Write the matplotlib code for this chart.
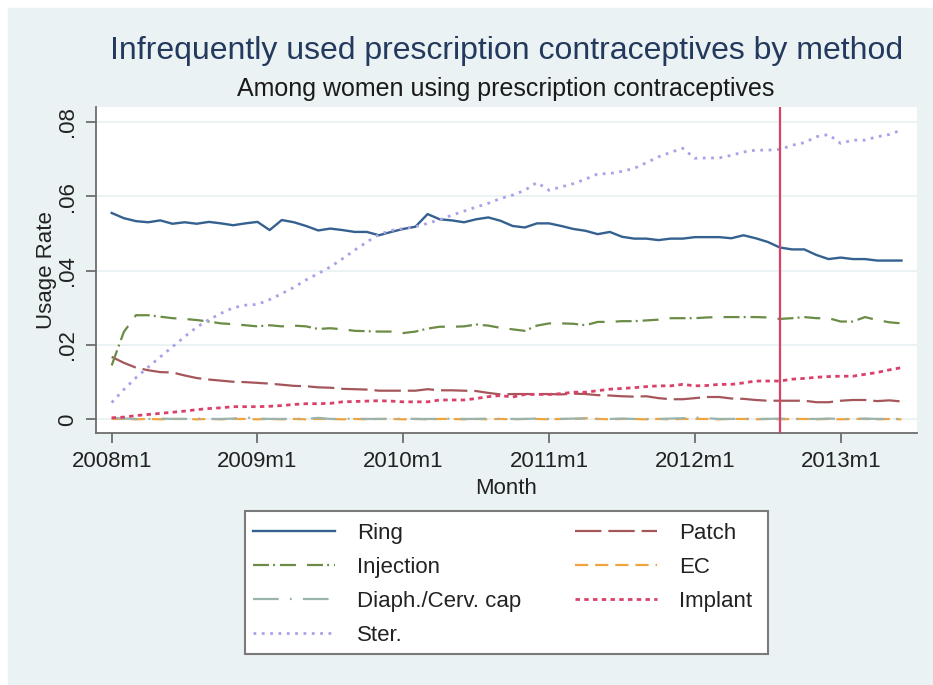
import numpy as np
import pandas as pd
import matplotlib
matplotlib.use("Agg")
import matplotlib.pyplot as plt
from matplotlib.patches import Rectangle

# monthly series, 2008m1 .. 2013m6
months = pd.period_range("2008-01", periods=66, freq="M")
ref_month = "2012m8"

ring = [0.0555, 0.0541, 0.0533, 0.0530, 0.0535, 0.0526, 0.0530, 0.0526, 0.0531, 0.0527,
        0.0522, 0.0527, 0.0531, 0.0509, 0.0536, 0.0530, 0.0520, 0.0508, 0.0513, 0.0509,
        0.0504, 0.0504, 0.0495, 0.0504, 0.0512, 0.0518, 0.0552, 0.0538, 0.0535, 0.0530,
        0.0538, 0.0543, 0.0534, 0.0520, 0.0516, 0.0527, 0.0527, 0.0520, 0.0512, 0.0507,
        0.0498, 0.0504, 0.0491, 0.0486, 0.0486, 0.0482, 0.0486, 0.0486, 0.0490, 0.0490,
        0.0490, 0.0487, 0.0495, 0.0487, 0.0477, 0.0462, 0.0457, 0.0457, 0.0442, 0.0431,
        0.0435, 0.0431, 0.0431, 0.0427, 0.0427, 0.0427]
patch = [0.0168, 0.0152, 0.0139, 0.0132, 0.0127, 0.0126, 0.0118, 0.0111, 0.0107, 0.0104,
         0.0101, 0.0100, 0.0098, 0.0096, 0.0093, 0.0090, 0.0089, 0.0086, 0.0085, 0.0082,
         0.0081, 0.0080, 0.0077, 0.0077, 0.0077, 0.0077, 0.0081, 0.0078, 0.0078, 0.0077,
         0.0076, 0.0071, 0.0067, 0.0068, 0.0068, 0.0068, 0.0068, 0.0067, 0.0069, 0.0068,
         0.0065, 0.0064, 0.0062, 0.0061, 0.0062, 0.0057, 0.0054, 0.0054, 0.0057, 0.0060,
         0.0060, 0.0056, 0.0055, 0.0052, 0.0050, 0.0050, 0.0050, 0.0050, 0.0046, 0.0046,
         0.0050, 0.0052, 0.0052, 0.0049, 0.0051, 0.0048]
injection = [0.0145, 0.0235, 0.0280, 0.0280, 0.0276, 0.0272, 0.0270, 0.0267, 0.0263, 0.0258,
             0.0256, 0.0253, 0.0250, 0.0253, 0.0250, 0.0252, 0.0250, 0.0243, 0.0245, 0.0242,
             0.0238, 0.0237, 0.0236, 0.0236, 0.0232, 0.0236, 0.0244, 0.0249, 0.0249, 0.0250,
             0.0255, 0.0252, 0.0246, 0.0242, 0.0238, 0.0252, 0.0258, 0.0258, 0.0257, 0.0253,
             0.0262, 0.0262, 0.0264, 0.0264, 0.0266, 0.0268, 0.0272, 0.0272, 0.0272, 0.0274,
             0.0275, 0.0275, 0.0275, 0.0275, 0.0274, 0.0270, 0.0272, 0.0275, 0.0272, 0.0272,
             0.0263, 0.0263, 0.0275, 0.0267, 0.0261, 0.0258]
ec = [0.0001, 0.0001, 0.0000, 0.0001, 0.0000, 0.0001, 0.0001, 0.0000, 0.0001, 0.0000,
      0.0001, 0.0001, 0.0000, 0.0001, 0.0000, 0.0001, 0.0000, 0.0001, 0.0001, 0.0000,
      0.0001, 0.0000, 0.0001, 0.0001, 0.0000, 0.0001, 0.0000, 0.0001, 0.0001, 0.0000,
      0.0001, 0.0000, 0.0001, 0.0000, 0.0001, 0.0001, 0.0000, 0.0001, 0.0001, 0.0003,
      0.0001, 0.0000, 0.0001, 0.0001, 0.0000, 0.0001, 0.0000, 0.0001, 0.0001, 0.0001,
      0.0000, 0.0001, 0.0001, 0.0000, 0.0001, 0.0000, 0.0001, 0.0001, 0.0000, 0.0001,
      0.0000, 0.0001, 0.0001, 0.0000, 0.0001, 0.0000]
diaph = [0.0004, 0.0002, 0.0001, 0.0001, 0.0002, 0.0001, 0.0001, 0.0002, 0.0001, 0.0001,
         0.0002, 0.0005, 0.0002, 0.0001, 0.0001, 0.0002, 0.0001, 0.0004, 0.0001, 0.0001,
         0.0002, 0.0001, 0.0001, 0.0001, 0.0002, 0.0001, 0.0001, 0.0001, 0.0002, 0.0001,
         0.0001, 0.0002, 0.0001, 0.0001, 0.0001, 0.0002, 0.0001, 0.0001, 0.0002, 0.0002,
         0.0001, 0.0001, 0.0002, 0.0001, 0.0001, 0.0001, 0.0002, 0.0003, 0.0005, 0.0003,
         0.0001, 0.0001, 0.0002, 0.0001, 0.0001, 0.0002, 0.0001, 0.0001, 0.0001, 0.0002,
         0.0001, 0.0001, 0.0002, 0.0001, 0.0001, 0.0001]
implant = [0.0004, 0.0006, 0.0010, 0.0013, 0.0016, 0.0019, 0.0022, 0.0026, 0.0029, 0.0031,
           0.0034, 0.0034, 0.0034, 0.0035, 0.0037, 0.0040, 0.0042, 0.0042, 0.0043, 0.0047,
           0.0048, 0.0049, 0.0050, 0.0049, 0.0047, 0.0047, 0.0047, 0.0052, 0.0052, 0.0052,
           0.0056, 0.0061, 0.0064, 0.0060, 0.0067, 0.0067, 0.0067, 0.0069, 0.0073, 0.0073,
           0.0077, 0.0081, 0.0083, 0.0085, 0.0088, 0.0090, 0.0090, 0.0094, 0.0090, 0.0091,
           0.0094, 0.0094, 0.0098, 0.0103, 0.0103, 0.0103, 0.0108, 0.0110, 0.0113, 0.0115,
           0.0116, 0.0116, 0.0121, 0.0126, 0.0133, 0.0139]
ster = [0.0045, 0.0080, 0.0112, 0.0140, 0.0168, 0.0195, 0.0222, 0.0248, 0.0268, 0.0285,
        0.0300, 0.0307, 0.0309, 0.0322, 0.0338, 0.0355, 0.0375, 0.0392, 0.0410, 0.0432,
        0.0455, 0.0477, 0.0497, 0.0508, 0.0513, 0.0518, 0.0527, 0.0537, 0.0549, 0.0560,
        0.0571, 0.0581, 0.0594, 0.0603, 0.0616, 0.0637, 0.0616, 0.0625, 0.0634, 0.0646,
        0.0660, 0.0661, 0.0667, 0.0675, 0.0690, 0.0706, 0.0718, 0.0729, 0.0702, 0.0703,
        0.0703, 0.0710, 0.0719, 0.0724, 0.0724, 0.0726, 0.0737, 0.0744, 0.0760, 0.0766,
        0.0742, 0.0751, 0.0751, 0.0760, 0.0766, 0.0778]

y_ticks = [0, 0.02, 0.04, 0.06, 0.08]
y_ticklabels = ["0", ".02", ".04", ".06", ".08"]

plt.rcParams["font.family"] = ["Liberation Sans", "DejaVu Sans"]
plt.rcParams["lines.scale_dashes"] = False

W, H = 933, 685
fig = plt.figure(figsize=(W / 100, H / 100), dpi=100, facecolor="white")
bg = "#eaf2f3"
fig.patches.append(Rectangle((8 / W, 0), (W - 8) / W, (H - 8) / H,
                             transform=fig.transFigure, color=bg, zorder=-10))

def px_box(x0, y0, x1, y1):
  return [x0 / W, 1 - y1 / H, (x1 - x0) / W, (y1 - y0) / H]

ax = fig.add_axes(px_box(96, 107, 917, 433))
ax.set_facecolor("white")

x = np.arange(len(months))
labels = [f"{p.year}m{p.month}" for p in months]

series = [
  ("Ring", ring, "#34618f", "-", 1.7),
  ("Patch", patch, "#a5565b", (0, (19, 5)), 1.6),
  ("Injection", injection, "#6a8c45", (0, (11.5, 3, 1.4, 3.5, 11.5, 8)), 1.6),
  ("EC", ec, "#f0a440", (0, (9.5, 5)), 1.6),
  ("Diaph./Cerv. cap", diaph, "#9ab4ad", (0, (18.5, 8, 1.4, 8)), 1.6),
  ("Implant", implant, "#d9406a", (0, (3.2, 3.1)), 2.0),
  ("Ster.", ster, "#a9a2e6", (0, (2, 4)), 2.0),
]
handles = {}
for name, vals, col, ls, lw in series:
  h, = ax.plot(x, vals, color=col, linestyle=ls, lw=lw, label=name)
  handles[name] = h

ax.axvline(labels.index(ref_month), color="#d64465", lw=1.6, zorder=5)

ax.set_xlim(-1.29, 66.28)
ax.set_ylim(-0.00368, 0.0840)
jan = [i for i, p in enumerate(months) if p.month == 1]
ax.set_xticks(jan)
ax.set_xticklabels([labels[i] for i in jan], fontsize=16)
ax.set_yticks(y_ticks)
ax.set_yticklabels(y_ticklabels, fontsize=16, rotation=90, va="center")
ax.tick_params(axis="both", length=7, width=1.3, color="#6d6d6d", labelcolor="#222222")
ax.tick_params(axis="x", pad=6)
ax.tick_params(axis="y", pad=6)
ax.grid(axis="y", color=bg, lw=1.3)
ax.set_axisbelow(True)
for s in ["top", "right"]:
  ax.spines[s].set_visible(False)
for s in ["left", "bottom"]:
  ax.spines[s].set_color("#6d6d6d")
  ax.spines[s].set_linewidth(1.3)

ax.set_ylabel("Usage Rate", fontsize=16, color="#222222", labelpad=0)
ax.set_xlabel("Month", fontsize=16, color="#222222", labelpad=4)

fig.text(507 / W, 1 - 51 / H, "Infrequently used prescription contraceptives by method",
         fontsize=23, color="#23395d", ha="center", va="center")
fig.text(506 / W, 1 - 89 / H, "Among women using prescription contraceptives",
         fontsize=18, color="#1a1a1a", ha="center", va="center")

# legend box drawn by hand, entries placed inside
fig.patches.append(Rectangle((245 / W, 1 - 654 / H), (768 - 245) / W, (654 - 511) / H,
                             transform=fig.transFigure, facecolor="white",
                             edgecolor="#7a7a7a", lw=1.5, zorder=1))
order = ["Ring", "Injection", "Diaph./Cerv. cap", "Ster.", "Patch", "EC", "Implant"]
leg = fig.legend([handles[k] for k in order], order, ncol=2, frameon=False,
                 loc="upper left", bbox_to_anchor=(253 / W, 1 - 523 / H),
                 borderpad=0, borderaxespad=0, fontsize=16, handlelength=3.7,
                 handletextpad=1.0, labelspacing=0.58, columnspacing=2.4)
for t in leg.get_texts():
  t.set_color("#222222")
leg.set_zorder(2)

fig.savefig("out.png", dpi=100, facecolor="white")
